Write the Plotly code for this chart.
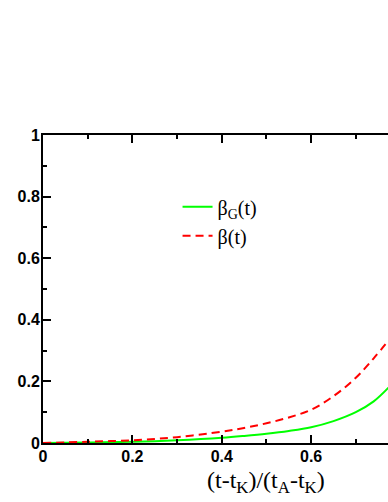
import plotly.graph_objects as go

# reduced time (t-tK)/(tA-tK)
t_red = [0.0, 0.1, 0.2, 0.3, 0.4, 0.45, 0.5, 0.55, 0.6, 0.65, 0.7, 0.74, 0.78]
beta_g = [0.0, 0.002, 0.004, 0.009, 0.017, 0.023, 0.030, 0.039, 0.051, 0.071, 0.100, 0.135, 0.190]
beta = [0.0, 0.004, 0.009, 0.019, 0.037, 0.049, 0.064, 0.083, 0.108, 0.152, 0.212, 0.275, 0.345]

x_ticks = [0, 0.2, 0.4, 0.6]
x_minor = [0.1, 0.3, 0.5, 0.7]
y_ticks = [0, 0.2, 0.4, 0.6, 0.8, 1]
y_minor = [0.1, 0.3, 0.5, 0.7, 0.9]

fig = go.Figure()
fig.add_trace(go.Scatter(
    x=t_red, y=beta_g, mode="lines", name="β<sub>G</sub>(t)",
    line=dict(color="#00ff00", width=2, shape="spline"),
))
fig.add_trace(go.Scatter(
    x=t_red, y=beta, mode="lines", name="β(t)",
    line=dict(color="#ff0000", width=2, dash="8px,5px", shape="spline"),
))

tickfont = dict(family="Liberation Sans", size=16, color="black", weight="bold")

fig.update_layout(
    width=388, height=502,
    margin=dict(l=43, r=0, t=135, b=59),
    paper_bgcolor="white", plot_bgcolor="white",
    showlegend=True,
    legend=dict(
        x=0.39, y=0.83, xanchor="left", yanchor="top",
        bgcolor="rgba(0,0,0,0)",
        font=dict(family="Liberation Serif", size=20, color="black"),
        tracegroupgap=0,
    ),
    xaxis=dict(
        range=[0, 0.772], showgrid=False, zeroline=False,
        showline=True, linecolor="black", linewidth=2, mirror="allticks",
        ticks="inside", ticklen=8, tickwidth=2, tickcolor="black",
        tickvals=x_ticks, ticktext=[f"{v:g}" for v in x_ticks],
        tickfont=tickfont, ticklabelstandoff=-2,
        minor=dict(tickvals=x_minor, ticks="inside", ticklen=4,
                   tickwidth=2, tickcolor="black", showgrid=False),
    ),
    yaxis=dict(
        range=[0, 1], showgrid=False, zeroline=False,
        showline=True, linecolor="black", linewidth=2, mirror=False,
        ticks="inside", ticklen=8, tickwidth=2, tickcolor="black",
        tickvals=y_ticks, ticktext=[f"{v:g}" for v in y_ticks],
        tickfont=tickfont, ticklabelstandoff=-2,
        minor=dict(tickvals=y_minor, ticks="inside", ticklen=4,
                   tickwidth=2, tickcolor="black", showgrid=False),
    ),
)

# axis title centred on the full (cropped) axis
fig.add_annotation(
    x=0.5, xref="x", y=-0.127, yref="paper",
    text="(t-t<sub>K</sub>)/(t<sub>A</sub>-t<sub>K</sub>)",
    showarrow=False, xanchor="center", yanchor="middle",
    font=dict(family="Liberation Serif", size=24, color="black"),
)

# drop the default page margin so the figure fills the window exactly
fig.write_html(
    "out.html",
    config={"displayModeBar": False},
    post_script="document.body.style.margin='0';document.body.style.overflow='hidden';",
)
